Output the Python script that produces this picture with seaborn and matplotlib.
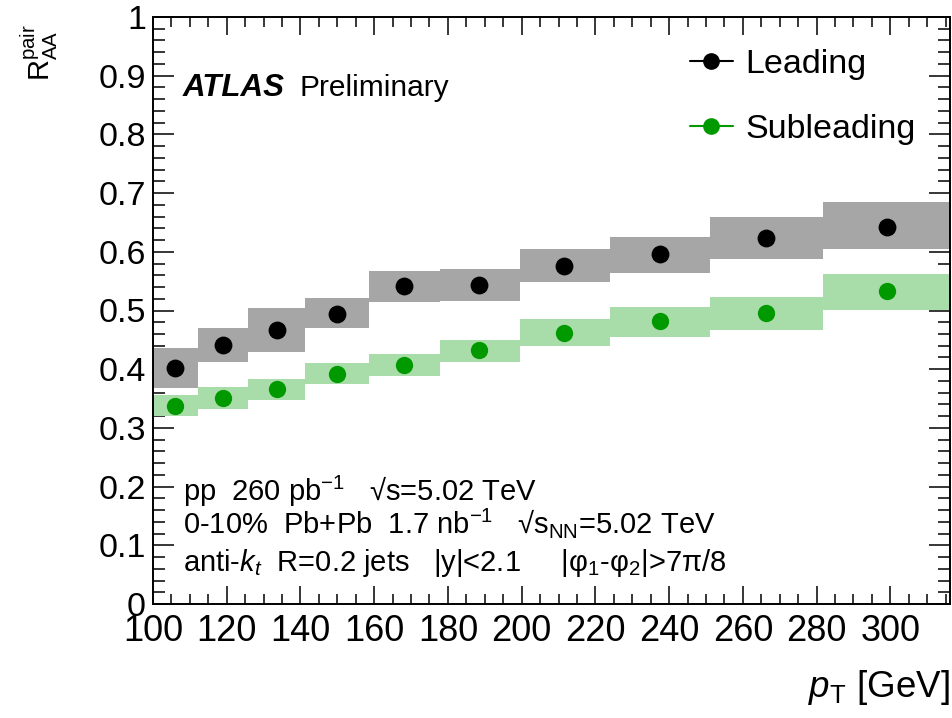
import numpy as np
import matplotlib
matplotlib.use("Agg")
import matplotlib.pyplot as plt
import seaborn as sns
from matplotlib.lines import Line2D
from matplotlib.ticker import MultipleLocator, FuncFormatter

# ---------------- data ----------------
bin_edges = [100.0, 112.2, 125.9, 141.3, 158.5, 177.8, 199.5, 223.9, 251.2, 281.8, 316.2]
pt_centers = [106.0, 119.0, 133.6, 149.8, 168.0, 188.5, 211.6, 237.6, 266.4, 299.0]

leading = [0.402, 0.442, 0.467, 0.494, 0.541, 0.544, 0.576, 0.596, 0.624, 0.643]
leading_sys_lo = [0.368, 0.413, 0.429, 0.470, 0.515, 0.517, 0.549, 0.564, 0.588, 0.604]
leading_sys_hi = [0.436, 0.470, 0.504, 0.521, 0.568, 0.570, 0.605, 0.625, 0.660, 0.684]

subleading = [0.338, 0.351, 0.367, 0.392, 0.408, 0.433, 0.462, 0.482, 0.496, 0.534]
subleading_sys_lo = [0.321, 0.333, 0.348, 0.374, 0.389, 0.412, 0.440, 0.455, 0.466, 0.501]
subleading_sys_hi = [0.356, 0.369, 0.383, 0.411, 0.426, 0.450, 0.485, 0.506, 0.523, 0.563]

series_labels = ["Leading", "Subleading"]
x_ticks = [100, 120, 140, 160, 180, 200, 220, 240, 260, 280, 300]
y_ticks = [0, 0.1, 0.2, 0.3, 0.4, 0.5, 0.6, 0.7, 0.8, 0.9, 1.0]

# ---------------- style ----------------
sns.set_style("ticks")
FONT = ["Liberation Sans", "DejaVu Sans"]
plt.rcParams["font.family"] = FONT
plt.rcParams["text.color"] = "black"
plt.rcParams["axes.labelcolor"] = "black"
plt.rcParams["xtick.color"] = "black"
plt.rcParams["ytick.color"] = "black"
plt.rcParams["axes.edgecolor"] = "black"
plt.rcParams["mathtext.fontset"] = "custom"
plt.rcParams["mathtext.rm"] = "Liberation Sans"
plt.rcParams["mathtext.it"] = "Liberation Sans:italic"
plt.rcParams["mathtext.bf"] = "Liberation Sans:bold"
plt.rcParams["mathtext.sf"] = "Liberation Sans"
plt.rcParams["mathtext.default"] = "rm"

c_lead_pt = "#000000"
c_lead_box = "#a6a6a6"
c_sub_pt = "#009900"
c_sub_box = "#a8dca8"

W, H = 953, 718
fig = plt.figure(figsize=(W / 100, H / 100), dpi=100)
ax = fig.add_axes([153 / W, 1 - 604 / H, (950 - 153) / W, (604 - 17) / H])

edges = np.array(bin_edges)
widths = np.diff(edges)

ax.bar(edges[:-1], np.array(leading_sys_hi) - np.array(leading_sys_lo),
       bottom=leading_sys_lo, width=widths, align="edge",
       color=c_lead_box, linewidth=0, zorder=1)
ax.bar(edges[:-1], np.array(subleading_sys_hi) - np.array(subleading_sys_lo),
       bottom=subleading_sys_lo, width=widths, align="edge",
       color=c_sub_box, linewidth=0, zorder=1)

sns.scatterplot(x=pt_centers, y=leading, color=c_lead_pt, s=165, linewidth=0,
                ax=ax, zorder=3, legend=False)
sns.scatterplot(x=pt_centers, y=subleading, color=c_sub_pt, s=155, linewidth=0,
                ax=ax, zorder=3, legend=False)

ax.set_xlim(bin_edges[0], bin_edges[-1])
ax.set_ylim(0, 1)
ax.set_xticks(x_ticks)
ax.set_yticks(y_ticks)
ax.xaxis.set_minor_locator(MultipleLocator(5))
ax.yaxis.set_minor_locator(MultipleLocator(0.02))
ax.yaxis.set_major_formatter(FuncFormatter(lambda v, p: f"{v:g}"))
ax.xaxis.set_major_formatter(FuncFormatter(lambda v, p: f"{v:g}"))

for s in ax.spines.values():
    s.set_linewidth(1.4)
    s.set_visible(True)
    s.set_color("black")
ax.tick_params(axis="both", which="both", direction="in", top=True, right=True,
               width=1.1, colors="black")
ax.tick_params(axis="x", which="major", length=13, pad=7, labelsize=26)
ax.tick_params(axis="x", which="minor", length=7)
ax.tick_params(axis="y", which="major", length=15, pad=5, labelsize=24.5)
ax.tick_params(axis="y", which="minor", length=8.5)
ax.set_xlabel("")
ax.set_ylabel("")

# axis titles
fig.text(950 / W, 1 - 697 / H, r"$\mathit{p}_{\mathrm{T}}$ [GeV]", ha="right",
         va="baseline", fontsize=26.5)
fig.text(39 / W, 1 - 24 / H, r"R$^{\mathrm{pair}}_{\mathrm{AA}}$", rotation=90,
         ha="center", va="top", fontsize=21)

# ATLAS label
fig.text(183 / W, 1 - 96 / H, "ATLAS", fontsize=22.5, fontweight="bold",
         fontstyle="italic", ha="left", va="baseline")
fig.text(300 / W, 1 - 96 / H, "Preliminary", fontsize=21.5, ha="left", va="baseline")

# info text
info_lines = [
    r"pp  260 pb$^{-1}$   √s=5.02 TeV",
    r"0-10%  Pb+Pb  1.7 nb$^{-1}$   √$\mathrm{s}_{\mathrm{NN}}$=5.02 TeV",
    r"anti-$\mathit{k}_{\mathit{t}}$  R=0.2 jets   |y|<2.1     |φ$_{1}$-φ$_{2}$|>7π/8",
]
info_y = [491, 523, 563]
for line, yy in zip(info_lines, info_y):
    fig.text(183 / W, 1 - yy / H, line, fontsize=21, ha="left", va="center")

# legend
handles = [
    Line2D([0], [0], color=c_lead_pt, marker="o", markersize=11, linewidth=1.5),
    Line2D([0], [0], color=c_sub_pt, marker="o", markersize=11, linewidth=1.5),
]
fig.legend(handles, series_labels, loc="upper left",
           bbox_to_anchor=(690 / W, 1 - 49 / H), frameon=False, fontsize=24.5,
           handlelength=1.25, handletextpad=0.38, labelspacing=1.0,
           borderpad=0, borderaxespad=0)

fig.savefig("out.png", dpi=100)
